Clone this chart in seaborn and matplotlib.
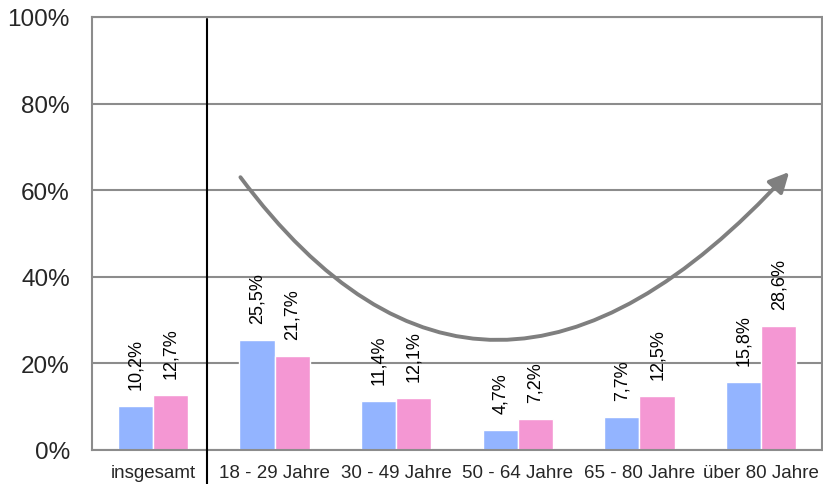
import matplotlib
matplotlib.use("Agg")
import matplotlib.pyplot as plt
import seaborn as sns
import pandas as pd
from matplotlib.path import Path
from matplotlib.patches import FancyArrowPatch
import matplotlib.transforms as mtransforms

categories = ["insgesamt", "18 - 29 Jahre", "30 - 49 Jahre", "50 - 64 Jahre", "65 - 80 Jahre", "über 80 Jahre"]
series_names = ["Serie 1", "Serie 2"]
values_blue = [10.2, 25.5, 11.4, 4.7, 7.7, 15.8]
values_pink = [12.7, 21.7, 12.1, 7.2, 12.5, 28.6]
y_ticks = [0, 20, 40, 60, 80, 100]
y_tick_labels = ["0%", "20%", "40%", "60%", "80%", "100%"]

# trend arrow (data coords): start, control, end
arrow_pts = [(0.72, 63.0), (2.72, -12.4), (5.23, 64.2)]

colors = ["#93B4FF", "#F497D3"]

sns.set_theme(style="white")
plt.rcParams["font.family"] = ["Liberation Sans", "DejaVu Sans"]

df = pd.DataFrame({
    "cat": categories * 2,
    "serie": [series_names[0]] * len(categories) + [series_names[1]] * len(categories),
    "val": values_blue + values_pink,
})

fig = plt.figure(figsize=(8.23, 4.85), dpi=100)
ax = fig.add_axes([92 / 823, 34 / 485, 730 / 823, 433 / 485])

sns.barplot(data=df, x="cat", y="val", hue="serie", palette=colors, ax=ax,
            width=0.58, saturation=1, legend=False, errorbar=None)

for cont in ax.containers:
    labels = [f"{v:.1f}%".replace(".", ",") for v in cont.datavalues]
    ax.bar_label(cont, labels=labels, rotation=90, padding=12, fontsize=13, color="black")

ax.set_ylim(0, 100)
ax.set_xlim(-0.5, len(categories) - 0.5)
ax.set_yticks(y_ticks)
ax.set_yticklabels(y_tick_labels, fontsize=17.5)
ax.tick_params(axis="y", length=0, pad=16)
ax.tick_params(axis="x", length=0, pad=10, labelsize=13.5)
ax.set_xlabel("")
ax.set_ylabel("")
ax.yaxis.grid(True, color="#8c8c8c", linewidth=1.5)
ax.set_axisbelow(True)
for s in ax.spines.values():
    s.set_color("#8c8c8c")
    s.set_linewidth(1.5)

# separator line
trans = mtransforms.blended_transform_factory(ax.transData, ax.transAxes)
ax.plot([0.445, 0.445], [-0.08, 0.995], color="black", linewidth=1.5,
        transform=trans, clip_on=False, zorder=5)

# curved arrow
path = Path(arrow_pts, [Path.MOVETO, Path.CURVE3, Path.CURVE3])
arr = FancyArrowPatch(path=path, arrowstyle="-|>,head_length=12,head_width=6",
                      color="#7f7f7f", linewidth=2.8, zorder=6)
ax.add_patch(arr)

fig.savefig("out.png", dpi=100)
